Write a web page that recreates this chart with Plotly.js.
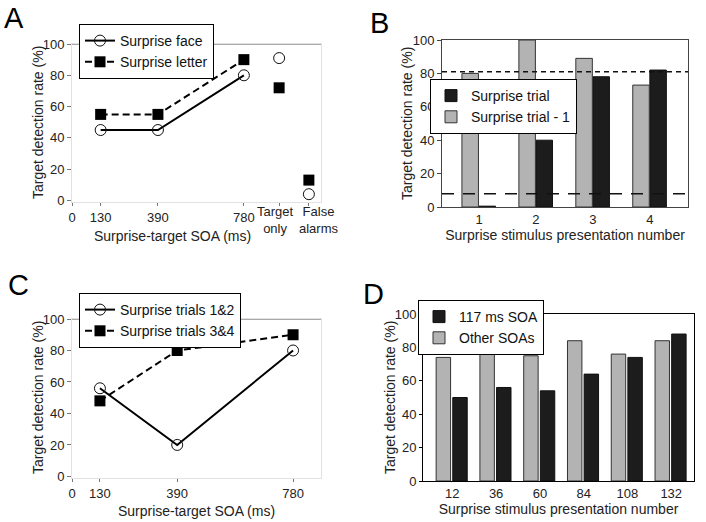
<!DOCTYPE html>
<html>
<head>
<meta charset="utf-8">
<script src="https://cdn.plot.ly/plotly-3.0.1.min.js"></script>
<style>html,body{margin:0;padding:0;background:#fff}#chart{width:706px;height:522px}</style>
</head>
<body>
<div id="chart"></div>
<script>
// ---------- Data ----------
// Panel A
const soaA = [130, 390, 780];
const faceA = [45, 45, 80];
const letterA = [55, 55, 90];
const extraLabelsA = ['Target<br>only', 'False<br>alarms'];
const extraPosA = [940, 1075];
const faceExtraA = [91, 4];
const letterExtraA = [72, 13];

// Panel B
const presB = ['1', '2', '3', '4'];
const surpriseTrialB = [0.5, 40, 78, 82];
const surpriseTrialMinus1B = [80, 100, 89, 73];
const targetOnlyLevelB = [81];
const falseAlarmLevelB = [8];

// Panel C
const soaC = [130, 390, 780];
const trials12C = [56, 20, 80];
const trials34C = [48, 80, 90];

// Panel D
const presD = ['12', '36', '60', '84', '108', '132'];
const soa117D = [50, 56, 54, 64, 74, 88];
const otherSoaD = [74, 79, 75, 84, 76, 84];

const yTitle = 'Target detection rate (%)';

// ---------- Styles ----------
const FONT = 'Liberation Sans, Arial, sans-serif';
const TICKF = {family: FONT, size: 13, color: '#222'};
const TITLEF = {family: FONT, size: 14, color: '#222'};
const LEGF = {family: FONT, size: 14, color: '#111'};
const GREY = '#b3b3b3';
const BLACK = '#1c1c1c';

const circ = {symbol: 'circle-open', size: 11, color: '#111', line: {width: 1, color: '#111'}};
const sq = {symbol: 'square', size: 11, color: '#000'};

const traces = [
  // A
  {x: soaA, y: faceA, type: 'scatter', mode: 'lines+markers', name: 'Surprise face',
   line: {color: '#000', width: 2}, marker: circ, xaxis: 'x', yaxis: 'y', legend: 'legend'},
  {x: soaA, y: letterA, type: 'scatter', mode: 'lines+markers', name: 'Surprise letter',
   line: {color: '#000', width: 2, dash: '7px,4px'}, marker: sq, xaxis: 'x', yaxis: 'y', legend: 'legend'},
  {x: extraPosA, y: faceExtraA, type: 'scatter', mode: 'markers', name: 'Surprise face',
   marker: circ, xaxis: 'x', yaxis: 'y', showlegend: false},
  {x: extraPosA, y: letterExtraA, type: 'scatter', mode: 'markers', name: 'Surprise letter',
   marker: sq, xaxis: 'x', yaxis: 'y', showlegend: false},
  // B
  {x: presB, y: surpriseTrialB, type: 'bar', name: 'Surprise trial', width: 0.29, offset: 0.0,
   marker: {color: BLACK, line: {color: '#111', width: 1}}, xaxis: 'x2', yaxis: 'y2', legend: 'legend2'},
  {x: presB, y: surpriseTrialMinus1B, type: 'bar', name: 'Surprise trial - 1', width: 0.29, offset: -0.3,
   marker: {color: GREY, line: {color: '#333', width: 1}}, xaxis: 'x2', yaxis: 'y2', legend: 'legend2'},
  // C
  {x: soaC, y: trials12C, type: 'scatter', mode: 'lines+markers', name: 'Surprise trials 1&2',
   line: {color: '#000', width: 2}, marker: circ, xaxis: 'x3', yaxis: 'y3', legend: 'legend3'},
  {x: soaC, y: trials34C, type: 'scatter', mode: 'lines+markers', name: 'Surprise trials 3&4',
   line: {color: '#000', width: 2, dash: '7px,4px'}, marker: sq, xaxis: 'x3', yaxis: 'y3', legend: 'legend3'},
  // D
  {x: presD, y: soa117D, type: 'bar', name: '117 ms SOA', width: 0.33, offset: 0.01,
   marker: {color: BLACK, line: {color: '#111', width: 1}}, xaxis: 'x4', yaxis: 'y4', legend: 'legend4'},
  {x: presD, y: otherSoaD, type: 'bar', name: 'Other SOAs', width: 0.33, offset: -0.37,
   marker: {color: GREY, line: {color: '#333', width: 1}}, xaxis: 'x4', yaxis: 'y4', legend: 'legend4'}
];

const W = 706, H = 522;
const px = v => v / W;
const py = v => 1 - v / H;

const faintAxis = {showline: true, linecolor: '#e2e2e2', linewidth: 1, mirror: true, showgrid: false,
  zeroline: false, ticks: 'outside', tickcolor: '#777', ticklen: 4, tickfont: TICKF, tickangle: 0};
const boxAxis = (c) => ({showline: true, linecolor: c, linewidth: 1, mirror: true, showgrid: false,
  zeroline: false, tickfont: TICKF, tickangle: 0});

const legendBase = {bgcolor: '#fff', bordercolor: '#000', borderwidth: 1, font: LEGF,
  xanchor: 'left', yanchor: 'top', tracegroupgap: 0};

const yTitleAnn = (x, y) => ({text: yTitle, xref: 'paper', yref: 'paper', x: px(x), y: py(y),
  xanchor: 'center', yanchor: 'middle', textangle: -90, showarrow: false, font: TITLEF});
const letterAnn = (t, x, y) => ({text: t, xref: 'paper', yref: 'paper', x: px(x), y: py(y),
  xanchor: 'left', yanchor: 'middle', showarrow: false, font: {family: FONT, size: 29, color: '#000'}});

const layout = {
  width: W, height: H,
  margin: {l: 0, r: 0, t: 0, b: 0},
  paper_bgcolor: '#fff', plot_bgcolor: '#fff',
  barmode: 'overlay',
  showlegend: true,
  font: {family: FONT, color: '#222'},
  // A
  xaxis: Object.assign({}, faintAxis, {domain: [px(72), px(321)], range: [0, 1130],
    tickvals: [0].concat(soaA, extraPosA), ticktext: ['0'].concat(soaA.map(String), ['', '']),
    ticklen: 3, anchor: 'y'}),
  yaxis: Object.assign({}, faintAxis, {domain: [py(202), py(44)], range: [-1, 100],
    tickvals: [0, 20, 40, 60, 80, 100], anchor: 'x'}),
  // B
  xaxis2: Object.assign({}, boxAxis('#444'), {domain: [px(442), px(688)], range: [-0.65, 3.67],
    type: 'category', ticks: '', anchor: 'y2',
    title: {text: 'Surprise stimulus presentation number', font: TITLEF, standoff: 4}}),
  yaxis2: Object.assign({}, boxAxis('#444'), {domain: [py(207), py(40)], range: [0, 100],
    ticks: 'outside', ticklen: 4, tickcolor: '#444', tickvals: [0, 20, 40, 60, 80, 100], anchor: 'x2'}),
  // C
  xaxis3: Object.assign({}, faintAxis, {domain: [px(72), px(321)], range: [36, 874],
    tickvals: [36].concat(soaC), ticktext: ['0'].concat(soaC.map(String)), ticklen: 3, anchor: 'y3',
    title: {text: 'Surprise-target SOA (ms)', font: TITLEF, standoff: 6}}),
  yaxis3: Object.assign({}, faintAxis, {domain: [py(478), py(319)], range: [-1, 100],
    tickvals: [0, 20, 40, 60, 80, 100], anchor: 'x3'}),
  // D
  xaxis4: Object.assign({}, boxAxis('#000'), {domain: [px(423), px(694)], range: [-0.67, 5.52],
    type: 'category', ticks: '', anchor: 'y4',
    title: {text: 'Surprise stimulus presentation number', font: TITLEF, standoff: 4}}),
  yaxis4: Object.assign({}, boxAxis('#000'), {domain: [py(481), py(314)], range: [0, 100],
    ticks: 'outside', ticklen: 3, tickcolor: '#000', tickvals: [0, 20, 40, 60, 80, 100], anchor: 'x4'}),
  legend: Object.assign({}, legendBase, {x: px(79), y: py(24)}),
  legend2: Object.assign({}, legendBase, {x: px(430), y: py(79)}),
  legend3: Object.assign({}, legendBase, {x: px(79), y: py(293)}),
  legend4: Object.assign({}, legendBase, {x: px(418), y: py(300)}),
  shapes: [
    {type: 'line', xref: 'x domain', yref: 'y', x0: 0, x1: 1, y0: 100, y1: 100, line: {color: '#555', width: 1}},
    {type: 'line', xref: 'x3 domain', yref: 'y3', x0: 0, x1: 1, y0: 100, y1: 100, line: {color: '#555', width: 1}},
    {type: 'line', xref: 'x2 domain', yref: 'y2', x0: 0, x1: 1, y0: targetOnlyLevelB[0], y1: targetOnlyLevelB[0],
     line: {color: '#111', width: 1.5, dash: '5px,4px'}},
    {type: 'line', xref: 'x2 domain', yref: 'y2', x0: 0, x1: 1, y0: falseAlarmLevelB[0], y1: falseAlarmLevelB[0],
     line: {color: '#111', width: 1.5, dash: '12px,9px'}}
  ],
  annotations: [
    letterAnn('A', 2, 18), letterAnn('B', 368, 23), letterAnn('C', 6, 285), letterAnn('D', 361, 294),
    yTitleAnn(38, 123), yTitleAnn(407, 124), yTitleAnn(38, 398), yTitleAnn(390, 398),
    {text: 'Surprise-target SOA (ms)', xref: 'paper', yref: 'paper', x: px(172), y: py(236),
     xanchor: 'center', yanchor: 'middle', showarrow: false, font: TITLEF},
    {text: extraLabelsA[0], xref: 'paper', yref: 'paper', x: px(275), y: py(220),
     xanchor: 'center', yanchor: 'middle', showarrow: false, font: TICKF},
    {text: extraLabelsA[1], xref: 'paper', yref: 'paper', x: px(319), y: py(220),
     xanchor: 'center', yanchor: 'middle', showarrow: false, font: TICKF}
  ]
};

Plotly.newPlot('chart', traces, layout, {displayModeBar: false, staticPlot: true});
</script>
</body>
</html>
